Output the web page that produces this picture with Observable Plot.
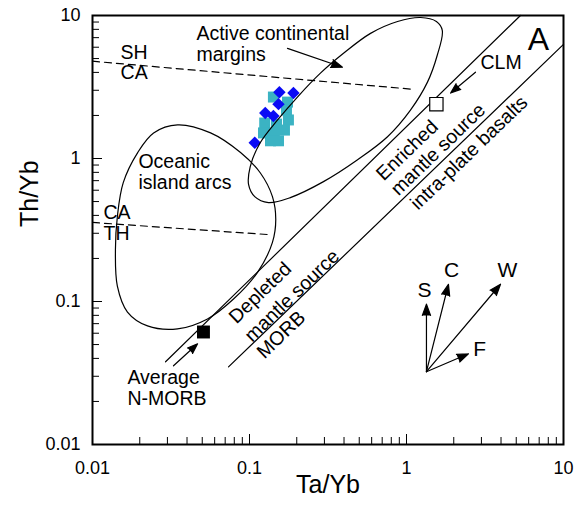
<!DOCTYPE html>
<html><head><meta charset="utf-8">
<script src="https://cdn.jsdelivr.net/npm/d3@7"></script>
<script src="https://cdn.jsdelivr.net/npm/@observablehq/plot@0.6"></script>
<style>body{margin:0;background:#fff;}</style>
</head><body><div id="chart"></div>
<script>
// ---- data ----
const tickValues = [0.01, 0.1, 1, 10];
const tickLabels = ["0.01", "0.1", "1", "10"];
const minorTicks = [0.02,0.03,0.04,0.05,0.06,0.07,0.08,0.09,0.2,0.3,0.4,0.5,0.6,0.7,0.8,0.9,2,3,4,5,6,7,8,9];
const majorInnerTicks = [0.1, 1];

// Active continental margins field outline [Ta/Yb, Th/Yb]
const acmOutline = [[1.69,7.87],[1.57,5.27],[1.36,3.42],[1.06,2.18],[0.757,1.42],[0.488,0.98],[0.296,0.689],[0.182,0.533],[0.132,0.492],[0.108,0.541],[0.0987,0.656],[0.101,0.875],[0.117,1.29],[0.151,1.86],[0.202,2.69],[0.283,3.95],[0.397,5.44],[0.590,7.50],[0.877,9.08],[1.23,9.68],[1.55,9.08]];
// Oceanic island arcs field outline
const oiaOutline = [[0.0348,1.72],[0.0565,1.51],[0.0877,1.10],[0.117,0.795],[0.140,0.541],[0.147,0.374],[0.140,0.259],[0.1125,0.160],[0.0791,0.104],[0.0540,0.0755],[0.0348,0.0643],[0.0224,0.0675],[0.0167,0.0844],[0.0144,0.128],[0.0140,0.232],[0.0144,0.393],[0.0157,0.678],[0.0194,1.10],[0.0245,1.51]];
// dashed boundaries
const shcaLine = [[0.01,4.79],[1.09,3.05]];
const cathLine = [[0.01,0.357],[0.130,0.294]];
// mantle array boundaries
const upperMantle = [[0.0292,0.0379],[5.32,10]];
const lowerMantle = [[0.0735,0.0349],[10,6.28]];

// samples
const cyanSamples = [[0.142,2.69],[0.1746,2.48],[0.172,2.18],[0.177,1.86],[0.125,1.77],[0.1486,1.74],[0.1228,1.51],[0.144,1.51],[0.167,1.58],[0.136,1.33],[0.153,1.33]];
const blueSamples = [[0.155,2.91],[0.1905,2.87],[0.153,2.40],[0.126,2.08],[0.142,1.98],[0.108,1.29]];
const nmorb = [[0.0509,0.0612]];
const clm = [[1.55,2.40]];

// arrows [x1,y1,x2,y2]
const pointerArrows = [[0.1746,5.89,0.391,4.35],[2.75,4.01,1.91,2.87],[0.0328,0.0355,0.0467,0.0506]];
const vectorOrigin = [1.34,0.0323];
const vectorNames = ["S","C","W","F"];
const vectorTips = [[1.34,0.0959],[1.85,0.132],[3.97,0.132],[2.48,0.0431]];
const vectorLabelPos = [[1.30,0.120],[1.94,0.1655],[4.40,0.1655],[2.92,0.0467]];

// text labels
const leftLabels = [
  {t:"Active continental", x:0.0459, y:7.50},
  {t:"margins", x:0.0459, y:5.35},
  {t:"Oceanic", x:0.0196, y:0.95},
  {t:"island arcs", x:0.0196, y:0.672},
  {t:"SH", x:0.0151, y:5.53},
  {t:"CA", x:0.0151, y:3.95},
  {t:"CA", x:0.01175, y:0.419},
  {t:"TH", x:0.01175, y:0.299},
  {t:"Average", x:0.0167, y:0.0293},
  {t:"N-MORB", x:0.0167, y:0.0209},
  {t:"CLM", x:2.96, y:4.64}
];
const slantLabels = [
  {t:"Enriched", x:1.01, y:1.14},
  {t:"mantle source", x:1.59, y:1.155},
  {t:"intra-plate basalts", x:2.50, y:1.095},
  {t:"Depleted", x:0.117, y:0.115},
  {t:"mantle source", x:0.1867, y:0.1095},
  {t:"MORB", x:0.159, y:0.0585}
];
const panelLetter = [{t:"A", x:6.93, y:6.81}];

// ---- layout ----
const W = 580, H = 505, mL = 92, mR = 17, mT = 15, mB = 61;
const fw = W - mL - mR, fh = H - mT - mB;
const font = "'Liberation Sans', Arial, sans-serif";
const px = d => d[0], py = d => d[1];

const vectors = vectorTips.map(t => ({x1: vectorOrigin[0], y1: vectorOrigin[1], x2: t[0], y2: t[1]}));
const pointers = pointerArrows.map(a => ({x1:a[0], y1:a[1], x2:a[2], y2:a[3]}));
const arrowOpts = {x1:"x1", y1:"y1", x2:"x2", y2:"y2", stroke:"black", fill:"black", strokeWidth:1.2, headLength:15, headAngle:40};

const plot = Plot.plot({
  width: W, height: H,
  marginLeft: mL, marginRight: mR, marginTop: mT, marginBottom: mB,
  style: {fontFamily: font, fontSize: "18px", color: "black", background: "white"},
  x: {type: "log", domain: [0.01, 10]},
  y: {type: "log", domain: [0.01, 10]},
  marks: [
    // inward ticks
    Plot.ruleX(minorTicks, {insetTop: fh - 7, stroke: "black", strokeWidth: 1}),
    Plot.ruleX(majorInnerTicks, {insetTop: fh - 10, stroke: "black", strokeWidth: 1}),
    Plot.ruleY(minorTicks, {insetRight: fw - 7, stroke: "black", strokeWidth: 1}),
    Plot.ruleY(majorInnerTicks, {insetRight: fw - 10, stroke: "black", strokeWidth: 1}),
    Plot.axisX({ticks: tickValues, tickSize: 0, tickPadding: 17, fontSize: 18, label: null,
      tickFormat: d => tickLabels[tickValues.indexOf(d)]}),
    Plot.axisY({ticks: tickValues, tickSize: 0, tickPadding: 12, fontSize: 18, label: null,
      tickFormat: d => tickLabels[tickValues.indexOf(d)]}),
    Plot.text(["Ta/Yb"], {frameAnchor: "bottom", dy: 48, fontSize: 25}),
    Plot.text(["Th/Yb"], {frameAnchor: "left", dx: -63, dy: -3, rotate: -90, fontSize: 25}),
    // samples
    Plot.dot(cyanSamples, {x: px, y: py, symbol: "square", r: 6.2, fill: "#3bb3c3"}),
    Plot.dot(blueSamples, {x: px, y: py, symbol: "diamond2", r: 5.6, fill: "#0a0af5"}),
    // fields
    Plot.line(acmOutline, {x: px, y: py, curve: "catmull-rom-closed", stroke: "black", strokeWidth: 1.2}),
    Plot.line(oiaOutline, {x: px, y: py, curve: "catmull-rom-closed", stroke: "black", strokeWidth: 1.2}),
    Plot.line(shcaLine, {x: px, y: py, stroke: "black", strokeWidth: 1.2, strokeDasharray: "7,5"}),
    Plot.line(cathLine, {x: px, y: py, stroke: "black", strokeWidth: 1.2, strokeDasharray: "7,5"}),
    Plot.line(upperMantle, {x: px, y: py, stroke: "black", strokeWidth: 1.2}),
    Plot.line(lowerMantle, {x: px, y: py, stroke: "black", strokeWidth: 1.2}),
    // reference compositions
    Plot.dot(nmorb, {x: px, y: py, symbol: "square", r: 7.3, fill: "black"}),
    Plot.dot(clm, {x: px, y: py, symbol: "square", r: 7.5, fill: "white", stroke: "black", strokeWidth: 1.2}),
    // arrows
    Plot.arrow(pointers, arrowOpts),
    Plot.arrow(vectors, arrowOpts),
    Plot.text(vectorNames, {x: (d,i) => vectorLabelPos[i][0], y: (d,i) => vectorLabelPos[i][1], text: d => d, fontSize: 21}),
    // labels
    Plot.text(leftLabels, {x: "x", y: "y", text: "t", textAnchor: "start", fontSize: 19.5}),
    Plot.text(slantLabels, {x: "x", y: "y", text: "t", rotate: -44, fontSize: 19.5}),
    Plot.text(panelLetter, {x: "x", y: "y", text: "t", fontSize: 32}),
    Plot.frame({stroke: "black", strokeWidth: 2})
  ]
});
document.getElementById("chart").appendChild(plot);
</script>
</body></html>
